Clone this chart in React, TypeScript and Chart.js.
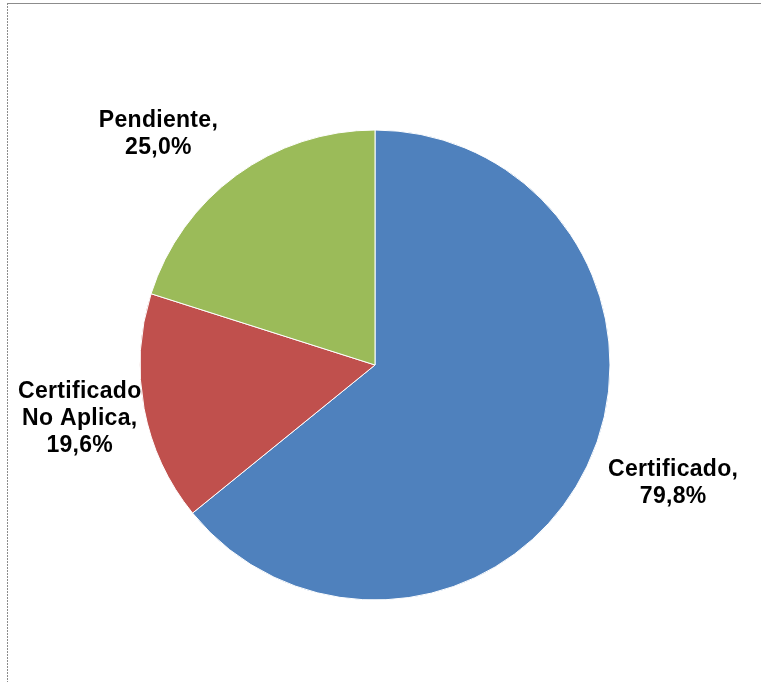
import React, { useEffect, useRef } from "react";
import { Chart, registerables } from "chart.js";

Chart.register(...registerables);

const categories = ["Certificado", "Certificado No Aplica", "Pendiente"];
const values = [79.8, 19.6, 25.0];
const labelLines = [
  ["Certificado,", "79,8%"],
  ["Certificado", "No Aplica,", "19,6%"],
  ["Pendiente,", "25,0%"],
];
const colors = ["#4F81BD", "#C0504D", "#9BBB59"];

const framePlugin = {
  id: "frame",
  beforeDraw(chart: any) {
    const ctx = chart.ctx;
    ctx.save();
    ctx.fillStyle = "#ffffff";
    ctx.fillRect(0, 0, chart.width, chart.height);
    ctx.strokeStyle = "#8c8c8c";
    ctx.lineWidth = 1;
    ctx.beginPath();
    ctx.moveTo(7, 3.5);
    ctx.lineTo(chart.width, 3.5);
    ctx.stroke();
    ctx.setLineDash([2, 1]);
    ctx.beginPath();
    ctx.moveTo(7.5, 3);
    ctx.lineTo(7.5, chart.height);
    ctx.stroke();
    ctx.restore();
  },
};

const labelPlugin = {
  id: "pieLabels",
  afterDraw(chart: any, _args: any, opts: any) {
    const ctx = chart.ctx;
    const meta = chart.getDatasetMeta(0);
    const gap = opts.gap;
    const lh = opts.lineHeight;
    ctx.save();
    ctx.font = "bold 23px 'Liberation Sans', Arial, sans-serif";
    (ctx as any).letterSpacing = "0.3px";
    ctx.fillStyle = "#000";
    ctx.textAlign = "center";
    ctx.textBaseline = "middle";
    meta.data.forEach((arc: any, i: number) => {
      const mid = (arc.startAngle + arc.endAngle) / 2;
      const dx = Math.cos(mid);
      const dy = Math.sin(mid);
      const lines = labelLines[i];
      const w = Math.max(...lines.map((l) => ctx.measureText(l).width));
      const h = lines.length * lh;
      const r = arc.outerRadius + gap;
      const nudge = opts.nudge[i] || [0, 0];
      const cx = arc.x + r * dx + (dx * w) / 2 + nudge[0];
      const cy = arc.y + r * dy + (dy * h) / 2 + nudge[1];
      lines.forEach((l, j) => {
        ctx.fillText(l, cx, cy - h / 2 + lh / 2 + j * lh);
      });
    });
    ctx.restore();
  },
};

export default function App() {
  const ref = useRef<HTMLCanvasElement | null>(null);
  useEffect(() => {
    if (!ref.current) return;
    const chart = new Chart(ref.current, {
      type: "pie",
      data: {
        labels: categories,
        datasets: [
          {
            data: values,
            backgroundColor: colors,
            borderColor: "#ffffff",
            borderWidth: 1,
          },
        ],
      },
      options: {
        responsive: false,
        animation: false,
        radius: 235,
        layout: { padding: { left: 0, right: 11, top: 48, bottom: 0 } },
        plugins: {
          legend: { display: false },
          tooltip: { enabled: false },
          title: { display: false },
          pieLabels: {
            gap: 18,
            lineHeight: 27,
            nudge: [
              [11, -2],
              [14, -1],
              [-32, -5],
            ],
          },
        } as any,
      },
      plugins: [framePlugin, labelPlugin],
    });
    return () => chart.destroy();
  }, []);
  return (
    <canvas
      ref={ref}
      width={761}
      height={682}
      style={{ position: "absolute", left: 0, top: 0, width: 761, height: 682 }}
    />
  );
}
